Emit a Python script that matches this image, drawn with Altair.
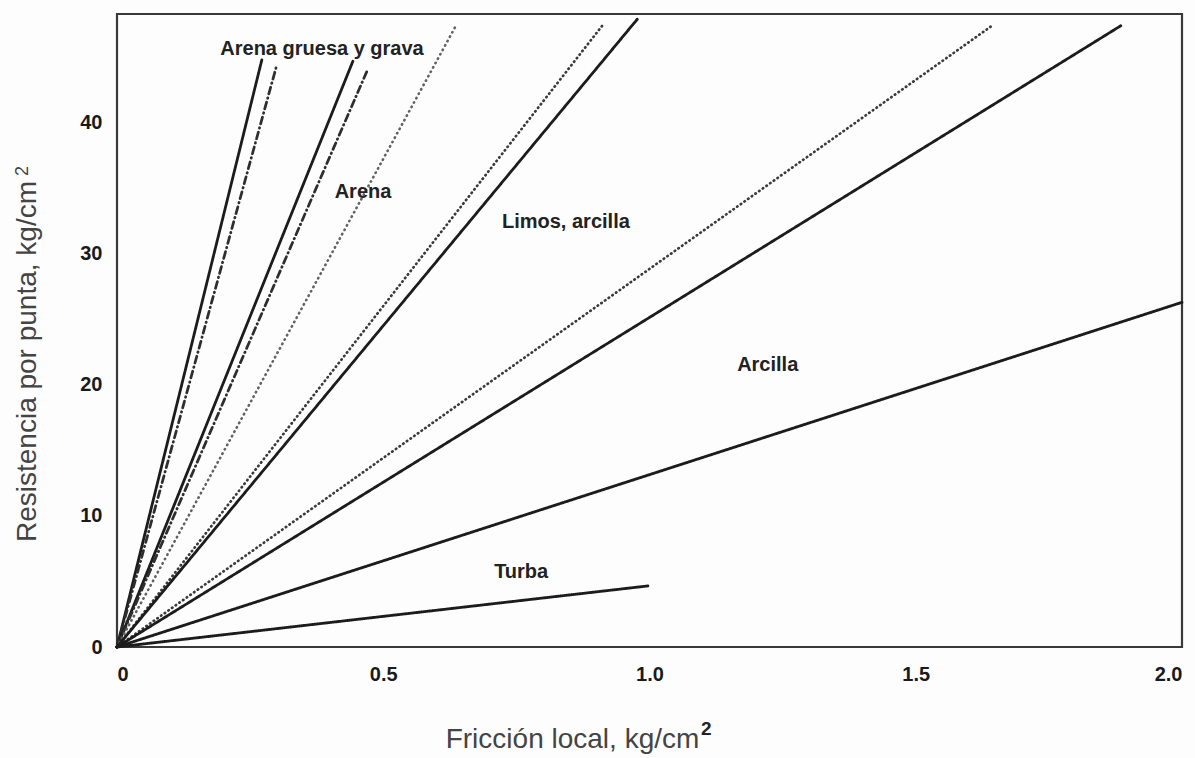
import altair as alt
import pandas as pd

# Límites de las zonas: cada recta parte del origen y termina en (fin_x, fin_y)
linea_id = ["L1", "L2", "L3", "L4", "L5", "L6", "L7", "L8", "L9", "L10", "L11"]
fin_x = [0.272, 0.300, 0.443, 0.469, 0.635, 0.913, 0.977, 1.643, 1.885, 2.000, 0.997]
fin_y = [44.8, 44.4, 44.7, 43.9, 47.3, 47.5, 47.9, 47.4, 47.4, 26.3, 4.66]
estilo = ["continua", "trazo-punto", "continua", "trazo-punto", "punteada-clara",
          "punteada", "continua", "punteada", "continua", "continua", "continua"]

# Rótulos de las zonas de suelo
etiquetas = ["Arena gruesa y grava", "Arena", "Limos, arcilla", "Arcilla", "Turba"]
etiq_x = [0.385, 0.462, 0.843, 1.222, 0.759]
etiq_y = [45.6, 34.7, 32.45, 21.5, 5.75]

x_ticks = [0, 0.5, 1.0, 1.5, 2.0]
y_ticks = [0, 10, 20, 30, 40]

filas = []
for lid, fx, fy, est in zip(linea_id, fin_x, fin_y, estilo):
    filas.append({"linea": lid, "estilo": est, "f": 0.0, "q": 0.0, "orden": 0})
    filas.append({"linea": lid, "estilo": est, "f": fx, "q": fy, "orden": 1})
lineas_df = pd.DataFrame(filas)
etiq_df = pd.DataFrame({"texto": etiquetas, "f": etiq_x, "q": etiq_y})

estilos = ["continua", "trazo-punto", "punteada", "punteada-clara"]
colores = ["#1c1c1c", "#2e2e2e", "#3a3a3a", "#626262"]
trazos = [[1, 0], [7, 4, 0.5, 4], [0.5, 4.0], [0.5, 4.5]]
grosores = [2.8, 2.6, 3.1, 2.9]

x_scale = alt.Scale(domain=[0, 2.0], nice=False, zero=True)
y_scale = alt.Scale(domain=[0, 48.3], nice=False, zero=True)

x_axis = alt.Axis(
    values=x_ticks,
    labelExpr="datum.value == 0 ? '0' : format(datum.value, '.1f')",
    title="Fricción local,  kg/cm",
    titleX=455, titleY=92, titleBaseline="middle", titleAlign="center",
    labelPadding=17,
)
y_axis = alt.Axis(
    values=y_ticks,
    title="Resistencia por punta, kg/cm",
    titleX=-90, titleY=347, titleBaseline="middle", titleAlign="center", titleAngle=-90,
    labelPadding=15,
)

lineas = alt.Chart(lineas_df).mark_line(strokeCap="round").encode(
    x=alt.X("f:Q", scale=x_scale, axis=x_axis),
    y=alt.Y("q:Q", scale=y_scale, axis=y_axis),
    detail="linea:N",
    order="orden:Q",
    color=alt.Color("estilo:N", scale=alt.Scale(domain=estilos, range=colores), legend=None),
    strokeDash=alt.StrokeDash("estilo:N", scale=alt.Scale(domain=estilos, range=trazos), legend=None),
    strokeWidth=alt.StrokeWidth("estilo:N", scale=alt.Scale(domain=estilos, range=grosores), legend=None),
)

textos = alt.Chart(etiq_df).mark_text(
    font="Liberation Sans", fontWeight="bold", fontSize=20, color="#222222",
    align="center", baseline="middle",
).encode(
    x=alt.X("f:Q", scale=x_scale),
    y=alt.Y("q:Q", scale=y_scale),
    text="texto:N",
)

# Exponentes de las unidades en los títulos de los ejes
exp_x = alt.Chart(pd.DataFrame({"t": ["2"]})).mark_text(
    font="Liberation Sans", fontWeight="bold", fontSize=19, color="#222222",
    align="left", baseline="middle",
).encode(x=alt.value(584), y=alt.value(715), text="t:N")

exp_y = alt.Chart(pd.DataFrame({"t": ["2"]})).mark_text(
    font="Liberation Sans", fontSize=18, color="#444444",
    align="left", baseline="middle", angle=270,
).encode(x=alt.value(-94), y=alt.value(162), text="t:N")

chart = alt.layer(lineas, textos, exp_x, exp_y).properties(
    width=1065, height=633,
    autosize=alt.AutoSizeParams(type="none"),
    padding={"left": 117, "top": 14, "right": 13, "bottom": 111},
    background="#fdfdfd",
).configure_view(
    stroke="#3a3a3a", strokeWidth=2.2, fill="#fdfdfd",
).configure_axis(
    domain=False, ticks=False, grid=False,
    labelFont="Liberation Sans", labelFontWeight="bold", labelFontSize=20, labelColor="#1a1a1a",
    titleFont="Liberation Sans", titleFontWeight="normal", titleFontSize=28, titleColor="#444444",
)

chart.save("out.html", embed_options={"renderer": "svg", "actions": False})
